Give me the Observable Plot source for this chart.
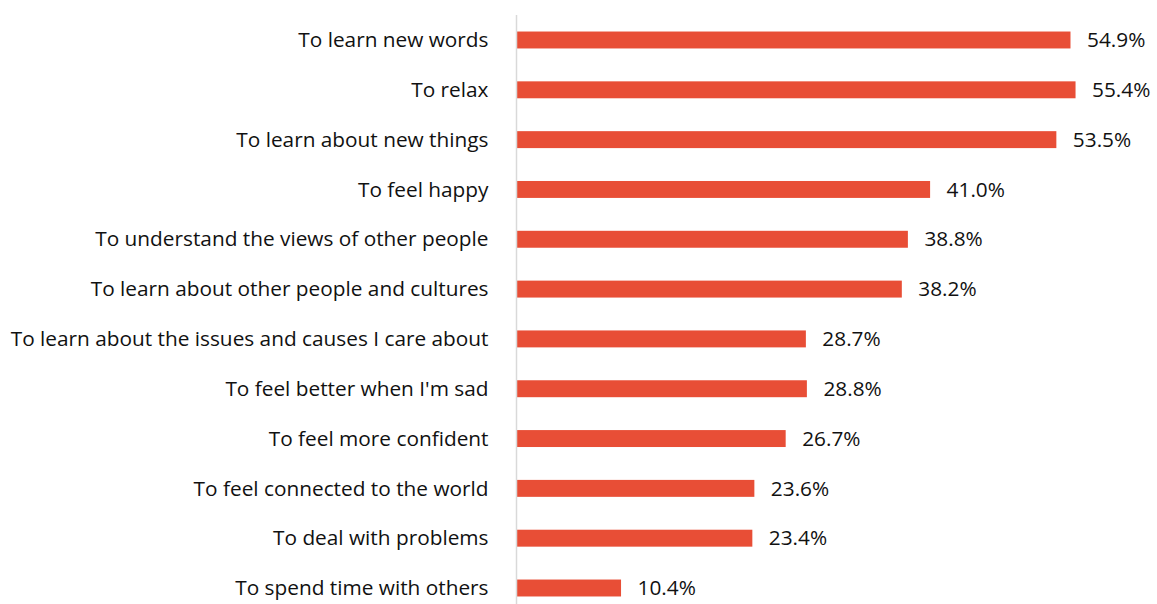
<!DOCTYPE html>
<html>
<head>
<meta charset="utf-8">
<script src="https://cdn.jsdelivr.net/npm/d3@7"></script>
<script src="https://cdn.jsdelivr.net/npm/@observablehq/plot@0.6"></script>
<style>
  html, body { margin: 0; padding: 0; background: #fff; }
  #chart svg { display: block; }
</style>
</head>
<body>
<div id="chart"></div>
<script>
const categories = [
  "To learn new words",
  "To relax",
  "To learn about new things",
  "To feel happy",
  "To understand the views of other people",
  "To learn about other people and cultures",
  "To learn about the issues and causes I care about",
  "To feel better when I'm sad",
  "To feel more confident",
  "To feel connected to the world",
  "To deal with problems",
  "To spend time with others"
];
const values = [54.9, 55.4, 53.5, 41.0, 38.8, 38.2, 28.7, 28.8, 26.7, 23.6, 23.4, 10.4];

const data = categories.map((c, i) => ({category: c, value: values[i]}));
const FONT = "'Open Sans', Lato, sans-serif";

const chart = Plot.plot({
  width: 1157,
  height: 604,
  marginLeft: 516,
  marginRight: 35,
  marginTop: 24,
  marginBottom: 0,
  style: {fontFamily: FONT, fontSize: "20.8px", color: "#111", background: "#fff"},
  x: {domain: [0, 60], axis: null},
  y: {domain: categories, paddingInner: 0.66, paddingOuter: 0.151, round: false, label: null, tickSize: 0, tickPadding: 28},
  marks: [
    Plot.barX(data, {x: "value", y: "category", fill: "#e84e36"}),
    Plot.ruleX([0], {stroke: "#d9d9d9", strokeWidth: 1.5, insetTop: -9}),
    Plot.text(data, {
      x: "value", y: "category",
      text: d => d.value.toFixed(1) + "%",
      textAnchor: "start", dx: 16, fill: "#111", fontSize: 20.8
    })
  ]
});
document.getElementById("chart").appendChild(chart);
</script>
</body>
</html>
